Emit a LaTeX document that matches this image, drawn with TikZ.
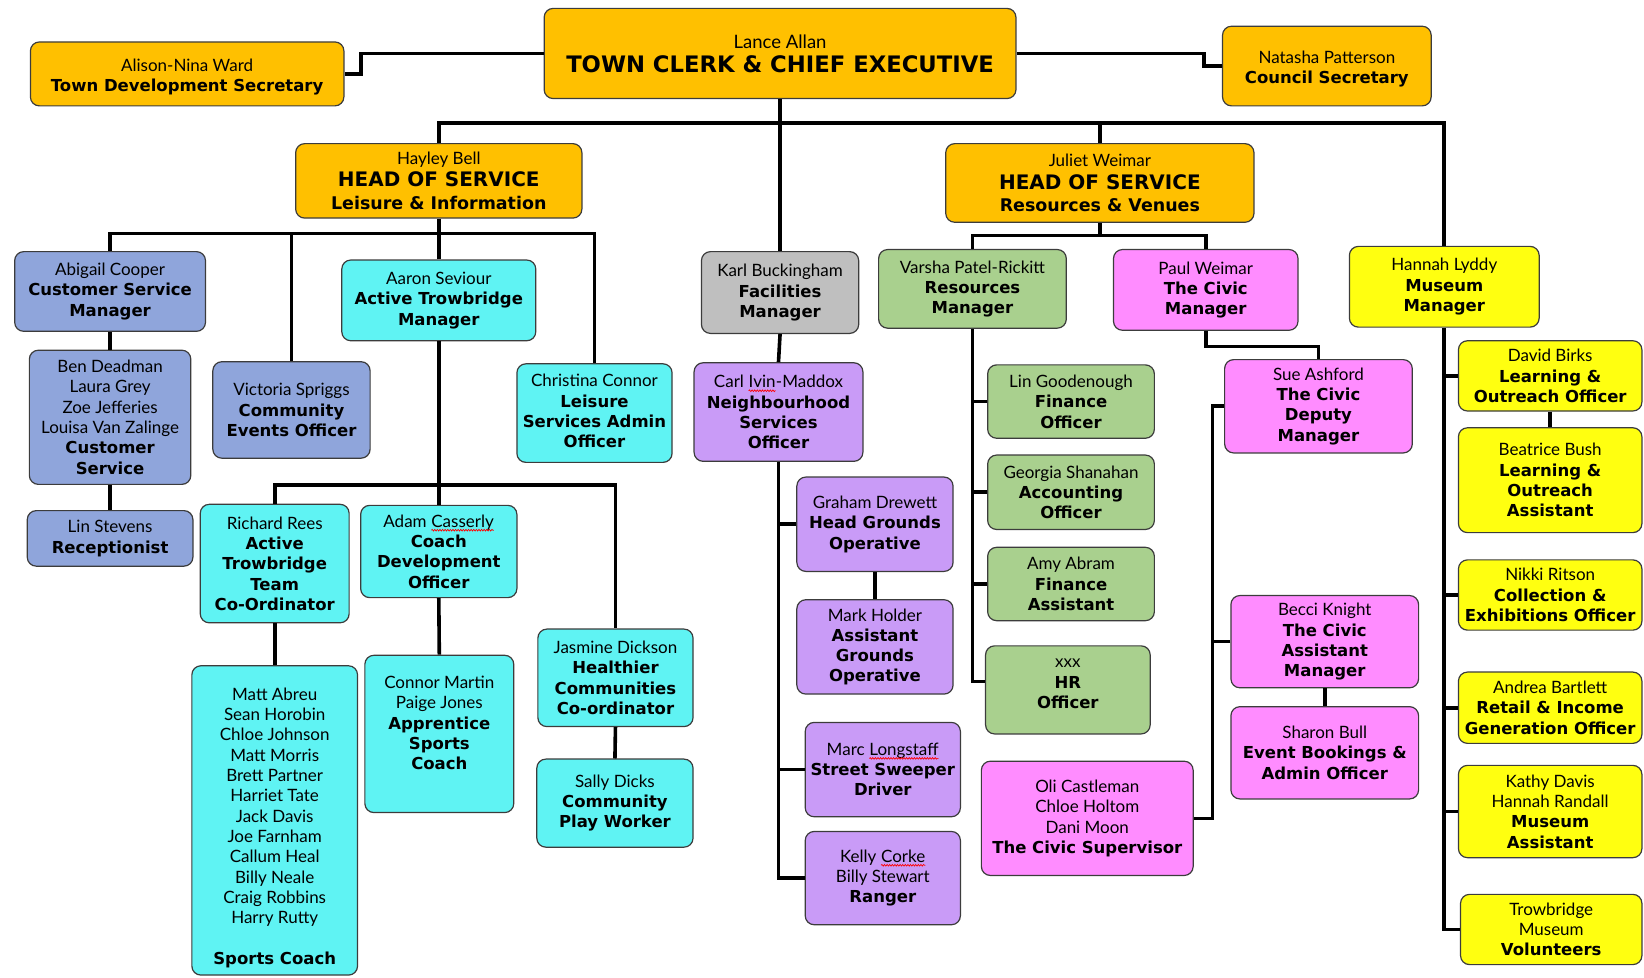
\documentclass[tikz,border=0pt]{standalone}
\usepackage{fontspec}
\usetikzlibrary{decorations.pathmorphing}
\setmainfont{Lato}[BoldFont={DejaVu Sans Bold},BoldFeatures={Scale=0.97}]
\newcommand\sq[1]{\tikz[baseline=(w.base)]{\node[draw=none,fill=none,minimum width=0pt,minimum height=0pt,inner sep=0pt,outer sep=0pt,anchor=base](w){#1};\draw[red,fill=none,line width=0.7pt,sharp corners,decorate,decoration={snake,amplitude=0.8pt,segment length=2.6pt}]([yshift=-3pt]w.base west)--([yshift=-3pt]w.base east);}}
\newcommand\B[1]{\textbf{#1}}
\definecolor{boxline}{HTML}{3C3C3C}
\definecolor{cgold}{HTML}{FFC000}
\definecolor{cblue}{HTML}{8FA5DB}
\definecolor{ccyan}{HTML}{5FF3F3}
\definecolor{cgrey}{HTML}{BFBFBF}
\definecolor{cpurple}{HTML}{C99BF7}
\definecolor{cgreen}{HTML}{A9D08E}
\definecolor{cpink}{HTML}{FF8CFF}
\definecolor{cyellow}{HTML}{FFFF10}
\newcommand\obox[7]{%
  \pgfmathsetmacro\obw{(#4-#2)*1.0485}%
  \pgfmathsetmacro\obh{(#5-#3)*1.0485}%
  \node[box,#6,minimum width=\obw pt,minimum height=\obh pt] (#1) at ({(#2+#4)/2},{(#3+#5)/2}) {#7};%
}
\begin{document}
\begin{tikzpicture}[x=1.0485pt,y=-1.0485pt,
  box/.style={draw=boxline,line width=1.2pt,rounded corners=9pt,align=center,inner sep=1pt,
    font=\fontsize{17}{20.3}\selectfont},
  conn/.style={line width=3.6pt},
  gold/.style={fill=cgold},
  blue/.style={fill=cblue},
  cyan/.style={fill=ccyan},
  grey/.style={fill=cgrey},
  purple/.style={fill=cpurple},
  green/.style={fill=cgreen},
  pink/.style={fill=cpink},
  yellow/.style={fill=cyellow},
  headbox/.style={gold,font=\fontsize{17}{22.5}\selectfont}]
\useasboundingbox (0,0) rectangle (1568,932);

% top level
\obox{lance}{519}{8}{969}{94}{gold,font=\fontsize{18.5}{24}\selectfont}{Lance Allan\\{\fontsize{23.4}{24}\selectfont\B{TOWN CLERK \& CHIEF EXECUTIVE}}}
\obox{alison}{29}{40}{328}{101}{gold}{\mbox{}\\[-1.8pt]Alison-Nina Ward\\\B{Town Development Secretary}}
\obox{natasha}{1166}{25}{1365}{101}{gold}{\mbox{}\\[-1.8pt]Natasha Patterson\\\B{Council Secretary}}

% heads
\obox{hayley}{282}{137}{555}{208}{headbox}{Hayley Bell\\{\fontsize{20.6}{22.5}\selectfont\B{HEAD OF SERVICE}}\\{\fontsize{18}{22.5}\selectfont\B{Leisure \& Information}}}
\obox{juliet}{902}{137}{1196}{212}{headbox}{Juliet Weimar\\{\fontsize{20.6}{22.5}\selectfont\B{HEAD OF SERVICE}}\\{\fontsize{18}{22.5}\selectfont\B{Resources \& Venues}}}
\obox{karl}{669}{240}{819}{318}{grey}{Karl Buckingham\\\B{Facilities}\\\B{Manager}}
\obox{hannah}{1287}{235}{1468}{312}{yellow}{Hannah Lyddy\\\B{Museum}\\\B{Manager}}

% leisure & information
\obox{abigail}{14}{240}{196}{316}{blue}{Abigail Cooper\\\B{Customer Service}\\\B{Manager}}
\obox{ben}{28}{334}{182}{462}{blue}{Ben Deadman\\Laura Grey\\Zoe Jefferies\\Louisa Van Zalinge\\\B{Customer}\\\B{Service}}
\obox{linst}{26}{487}{184}{540}{blue}{Lin Stevens\\\B{Receptionist}}
\obox{victoria}{203}{345}{353}{437}{blue}{Victoria Spriggs\\\B{Community}\\\B{Events Officer}}
\obox{aaron}{326}{248}{511}{325}{cyan}{Aaron Seviour\\\B{Active Trowbridge}\\\B{Manager}}
\obox{christina}{493}{347}{641}{441}{cyan}{Christina Connor\\\B{Leisure}\\\B{Services Admin}\\\B{Officer}\\[-16pt]\mbox{}}
\obox{richard}{191}{481}{333}{594}{cyan}{Richard Rees\\\B{Active}\\\B{Trowbridge}\\\B{Team}\\\B{Co-Ordinator}}
\obox{adam}{344}{482}{493}{570}{cyan}{Adam \sq{Casserly}\\\B{Coach}\\\B{Development}\\\B{Officer}}
\obox{matt}{183}{635}{341}{930}{cyan}{\mbox{}\\[6.9pt]Matt Abreu\\Sean Horobin\\Chloe Johnson\\Matt Morris\\Brett Partner\\Harriet Tate\\Jack Davis\\Joe Farnham\\Callum Heal\\Billy Neale\\Craig Robbins\\Harry Rutty\\[20.3pt]\B{Sports Coach}}
\obox{connor}{348}{625}{490}{775}{cyan}{Connor Martin\\Paige Jones\\\B{Apprentice}\\\B{Sports}\\\B{Coach}\\[1.7pt]\mbox{}}
\obox{jasmine}{513}{600}{661}{693}{cyan}{Jasmine Dickson\\\B{Healthier}\\\B{Communities}\\\B{Co-ordinator}}
\obox{sally}{512}{724}{661}{808}{cyan}{Sally Dicks\\\B{Community}\\\B{Play Worker}}

% facilities
\obox{carl}{662}{346}{823}{440}{purple}{Carl \sq{Ivin}-Maddox\\\B{Neighbourhood}\\\B{Services}\\\B{Officer}}
\obox{graham}{760}{455}{909}{545}{purple}{Graham Drewett\\\B{Head Grounds}\\\B{Operative}}
\obox{mark}{760}{572}{909}{662}{purple}{Mark Holder\\\B{Assistant}\\\B{Grounds}\\\B{Operative}}
\obox{marc}{768}{689}{916}{779}{purple}{Marc \sq{Longstaff}\\\B{Street Sweeper}\\\B{Driver}}
\obox{kelly}{768}{793}{916}{882}{purple}{Kelly \sq{Corke}\\Billy Stewart\\\B{Ranger}}

% resources & venues
\obox{varsha}{838}{238}{1017}{313}{green}{Varsha Patel-Rickitt\\\B{Resources}\\\B{Manager}}
\obox{paul}{1062}{238}{1238}{315}{pink}{Paul Weimar\\\B{The Civic}\\\B{Manager}}
\obox{lingood}{942}{348}{1101}{418}{green}{Lin Goodenough\\\B{Finance}\\\B{Officer}}
\obox{georgia}{942}{434}{1101}{505}{green}{Georgia Shanahan\\\B{Accounting}\\\B{Officer}}
\obox{amy}{942}{522}{1101}{592}{green}{Amy Abram\\\B{Finance}\\\B{Assistant}}
\obox{hr}{940}{616}{1097}{700}{green}{xxx\\\B{HR}\\\B{Officer}\\[-8.3pt]\mbox{}}
\obox{oli}{936}{726}{1138}{835}{pink}{Oli Castleman\\Chloe Holtom\\Dani Moon\\\B{The Civic Supervisor}}
\obox{sue}{1168}{343}{1347}{432}{pink}{Sue Ashford\\\B{The Civic}\\\B{Deputy}\\\B{Manager}}
\obox{becci}{1174}{568}{1353}{656}{pink}{Becci Knight\\\B{The Civic}\\\B{Assistant}\\\B{Manager}}
\obox{sharon}{1174}{674}{1353}{762}{pink}{Sharon Bull\\\B{Event Bookings \&}\\\B{Admin Officer}}

% museum
\obox{david}{1391}{325}{1566}{392}{yellow}{David Birks\\\B{Learning \&}\\\B{Outreach Officer}}
\obox{beatrice}{1391}{408}{1566}{508}{yellow}{Beatrice Bush\\\B{Learning \&}\\\B{Outreach}\\\B{Assistant}}
\obox{nikki}{1391}{534}{1566}{601}{yellow}{Nikki Ritson\\\B{Collection \&}\\\B{Exhibitions Officer}}
\obox{andrea}{1391}{641}{1566}{709}{yellow}{Andrea Bartlett\\\B{Retail \& Income}\\\B{Generation Officer}}
\obox{kathy}{1391}{730}{1566}{818}{yellow}{Kathy Davis\\Hannah Randall\\\B{Museum}\\\B{Assistant}}
\obox{trow}{1393}{853}{1566}{920}{yellow}{Trowbridge\\Museum\\\B{Volunteers}}

% connectors
\draw[conn] (lance.west) -- ++(-174,0) |- (alison.east);
\draw[conn] (lance.east) -- ++(179,0) |- (natasha.west);
\draw[conn] (lance.south) -- (karl.north);
\draw[conn] (hayley.north) -- ++(0,-19) coordinate (bus) -| (hannah.north);
\draw[conn] (juliet.north) -- (juliet.north |- bus);

\draw[conn] (hayley.south) -- ++(0,14) coordinate (hb);
\draw[conn] (abigail.north) |- (hb) -| (christina.north);
\draw[conn] (victoria.north) -- (victoria.north |- hb);
\draw[conn] (aaron.north) -- (aaron.north |- hb);
\draw[conn] (abigail.south) -- (ben.north);
\draw[conn] (ben.south) -- (linst.north);
\draw[conn] (aaron.south) -- (adam.north);
\path (aaron.south) -- ++(0,137) coordinate (ab);
\draw[conn] (richard.north) |- (ab) -| (jasmine.north);
\draw[conn] (richard.south) -- (matt.north);
\draw[conn] (adam.south) -- (connor.north);
\draw[conn] (jasmine.south) -- (sally.north);

\draw[conn] (karl.south) -- (carl.north);
\draw[conn] (carl.south) |- (kelly.west);
\draw[conn] (graham.west) -- (graham.west -| carl.south);
\draw[conn] (marc.west) -- (marc.west -| carl.south);
\draw[conn] (graham.south) -- (mark.north);

\draw[conn] (juliet.south) -- ++(0,12) coordinate (jb);
\draw[conn] (varsha.north) |- (jb) -| (paul.north);
\draw[conn] (varsha.south) |- ([yshift=8.4pt]hr.west);
\draw[conn] (lingood.west) -- (lingood.west -| varsha.south);
\draw[conn] (georgia.west) -- (georgia.west -| varsha.south);
\draw[conn] (amy.west) -- (amy.west -| varsha.south);
\draw[conn] (paul.south) -- ++(0,15) -| (sue.north);
\draw[conn] (sue.west) -- ++(-11,0) |- (oli.east);
\draw[conn] (becci.west) -- ++(-17,0);
\draw[conn] (becci.south) -- (sharon.north);

\draw[conn] (hannah.south) |- (trow.west);
\draw[conn] (david.west) -- (david.west -| hannah.south);
\draw[conn] (nikki.west) -- (nikki.west -| hannah.south);
\draw[conn] (andrea.west) -- (andrea.west -| hannah.south);
\draw[conn] (kathy.west) -- (kathy.west -| hannah.south);
\draw[conn] (david.south) -- (beatrice.north);
\end{tikzpicture}
\end{document}
